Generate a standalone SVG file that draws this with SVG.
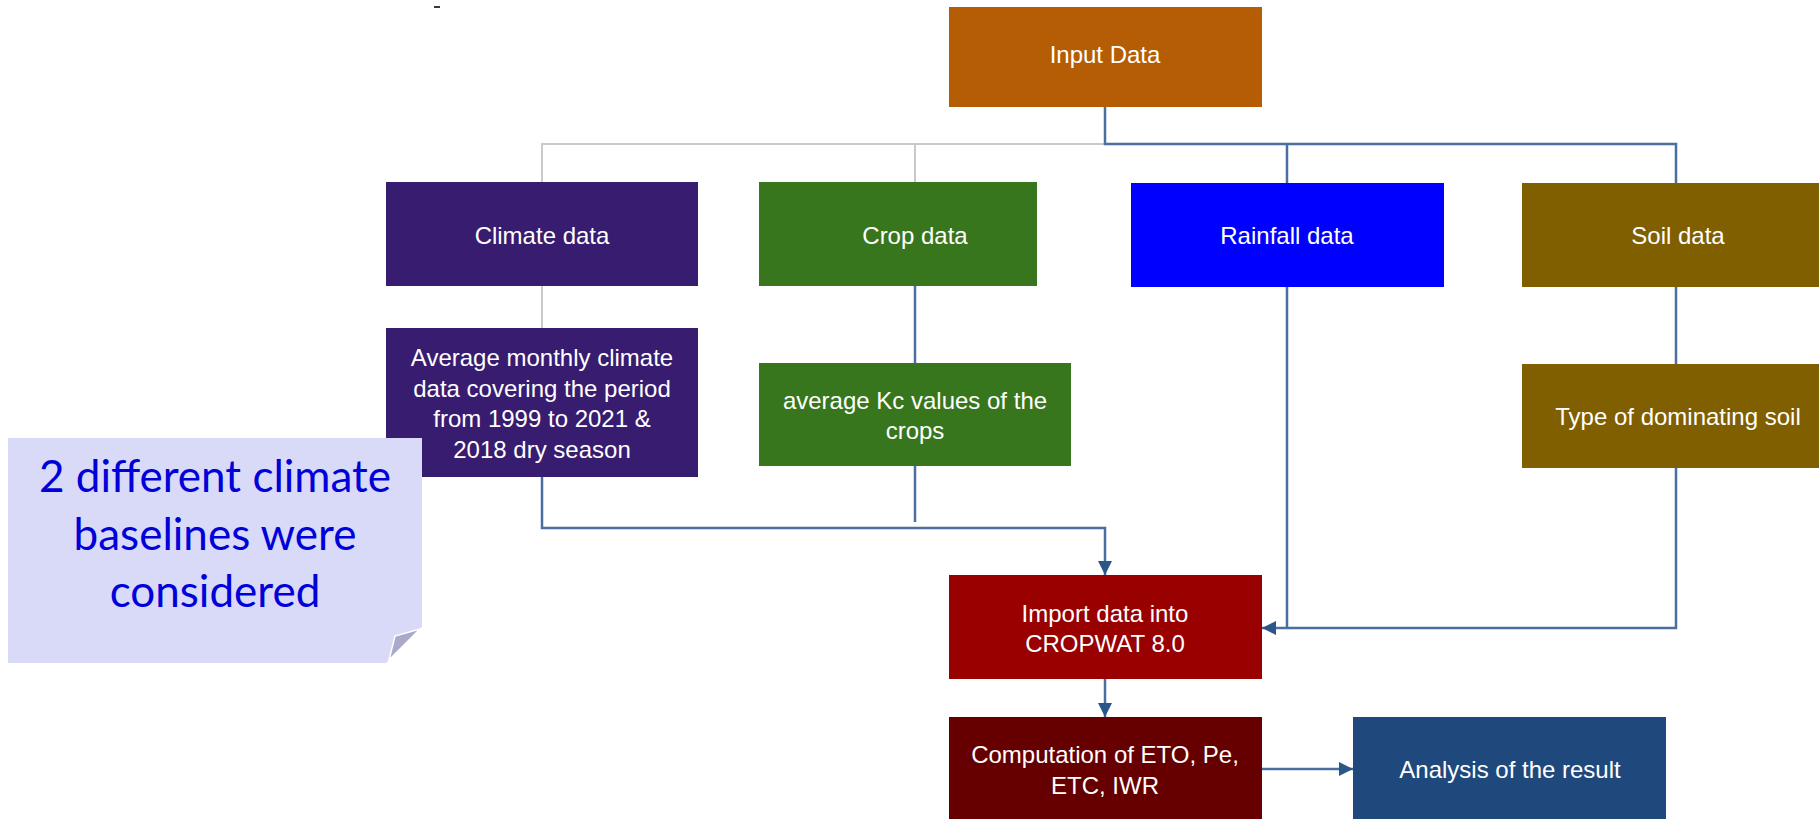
<svg xmlns="http://www.w3.org/2000/svg" width="1819" height="819" viewBox="0 0 1819 819">
<style>
.box text{font-family:"Liberation Sans",Arial,sans-serif;font-size:24px;fill:#ffffff;text-anchor:middle}
.gray{fill:none;stroke:#c9c9c9;stroke-width:2}
.blue{fill:none;stroke:#4a6e9e;stroke-width:2.5}
.note{font-family:Lato,"Open Sans",sans-serif;font-size:44px;fill:#0000d8;text-anchor:middle}
</style>
<defs>
<marker id="arr" markerUnits="userSpaceOnUse" markerWidth="14" markerHeight="14" viewBox="0 0 12 12" refX="12" refY="6" orient="auto">
<path d="M0,0 L12,6 L0,12 z" fill="#2b5688"/>
</marker>
</defs>
<rect width="1819" height="819" fill="#ffffff"/>
<rect x="434" y="6" width="6" height="2" fill="#3a3a3a"/>
<g id="connectors">
<path class="gray" d="M542,182 V144 H1105"/>
<path class="gray" d="M915,144 V182"/>
<path class="gray" d="M542,286 V328"/>
<path class="blue" d="M1105,107 V144 H1676 V183"/>
<path class="blue" d="M1287,144 V183"/>
<path class="blue" d="M915,286 V363"/>
<path class="blue" d="M915,466 V522"/>
<path class="blue" d="M542,477 V528 H1105 V575" marker-end="url(#arr)"/>
<path class="blue" d="M1287,287 V628"/>
<path class="blue" d="M1676,287 V364"/>
<path class="blue" d="M1676,468 V628 H1262" marker-end="url(#arr)"/>
<path class="blue" d="M1105,679 V717" marker-end="url(#arr)"/>
<path class="blue" d="M1262,769 H1353" marker-end="url(#arr)"/>
</g>
<g id="input" class="box"><rect x="949" y="7" width="313" height="100" fill="#b45d05"/><text x="1105" y="63">Input Data</text></g>
<g id="climate" class="box"><rect x="386" y="182" width="312" height="104" fill="#371c70"/><text x="542" y="244">Climate data</text></g>
<g id="crop" class="box"><rect x="759" y="182" width="278" height="104" fill="#38761d"/><text x="915" y="244">Crop data</text></g>
<g id="rainfall" class="box"><rect x="1131" y="183" width="313" height="104" fill="#0000ff"/><text x="1287" y="244">Rainfall data</text></g>
<g id="soil" class="box"><rect x="1522" y="183" width="312" height="104" fill="#7f5f00"/><text x="1678" y="244">Soil data</text></g>
<g id="climate-sub" class="box"><rect x="386" y="328" width="312" height="149" fill="#371c70"/><text x="542" y="366">Average monthly climate</text><text x="542" y="397">data covering the period</text><text x="542" y="427">from 1999 to 2021 &amp;</text><text x="542" y="458">2018 dry season</text></g>
<g id="crop-sub" class="box"><rect x="759" y="363" width="312" height="103" fill="#38761d"/><text x="915" y="409">average Kc values of the</text><text x="915" y="439">crops</text></g>
<g id="soil-sub" class="box"><rect x="1522" y="364" width="312" height="104" fill="#7f5f00"/><text x="1678" y="425">Type of dominating soil</text></g>
<g id="import" class="box"><rect x="949" y="575" width="313" height="104" fill="#990000"/><text x="1105" y="622">Import data into</text><text x="1105" y="652">CROPWAT 8.0</text></g>
<g id="computation" class="box"><rect x="949" y="717" width="313" height="104" fill="#660000"/><text x="1105" y="763">Computation of ETO, Pe,</text><text x="1105" y="794">ETC, IWR</text></g>
<g id="analysis" class="box"><rect x="1353" y="717" width="313" height="104" fill="#1f497d"/><text x="1510" y="778">Analysis of the result</text></g>
<g id="note">
<polygon points="8,438 422,438 422,627 386,663 8,663" fill="#d9d9f8"/>
<polygon points="389,660 395,636 420,629" fill="#a9a9c9" stroke="#ffffff" stroke-width="1.5"/>
<text class="note" x="215" y="492">2 different climate</text>
<text class="note" x="215" y="550">baselines were</text>
<text class="note" x="215" y="607">considered</text>
</g>
</svg>
